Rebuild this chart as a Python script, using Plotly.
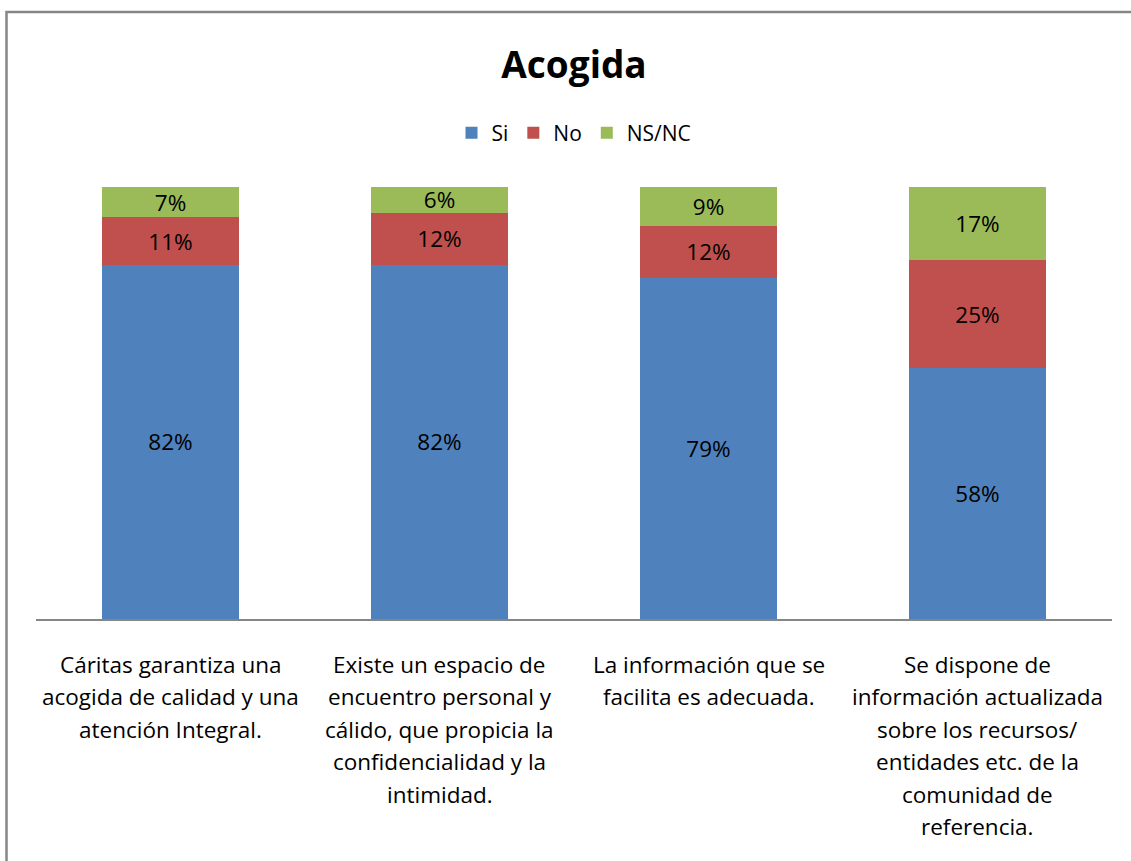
import plotly.graph_objects as go

categories = [
    "Cáritas garantiza una<br>acogida de calidad y una<br>atención Integral.",
    "Existe un espacio de<br>encuentro personal y<br>cálido, que propicia la<br>confidencialidad y la<br>intimidad.",
    "La información que se<br>facilita es adecuada.",
    "Se dispone de<br>información actualizada<br>sobre los recursos/<br>entidades etc. de la<br>comunidad de<br>referencia.",
]
cat_keys = ["c1", "c2", "c3", "c4"]
si = [82, 82, 79, 58]
no = [11, 12, 12, 25]
nsnc = [7, 6, 9, 17]

FONT = "Open Sans, Calibri, Carlito, sans-serif"
fig = go.Figure()
for name, vals, col in [("Si", si, "#4F81BD"), ("No", no, "#C0504D"), ("NS/NC", nsnc, "#9BBB59")]:
    fig.add_trace(go.Bar(
        x=cat_keys, y=vals, name=name, marker=dict(color=col, line=dict(width=0)),
        text=[f"{v}%" for v in vals], textposition="inside", insidetextanchor="middle",
        textfont=dict(color="black", size=22.5, family=FONT), constraintext="none",
    ))

annotations = []
for key, label in zip(cat_keys, categories):
    for j, line in enumerate(label.split("<br>")):
        annotations.append(dict(
            x=key, y=0, xref="x", yref="y", text=line, showarrow=False,
            yanchor="middle", xanchor="center", yshift=-(45 + 32.5 * j),
            font=dict(size=22.5, color="black", family=FONT),
        ))

W, H = 1131, 861
L, R, T, B = 36, 19, 187, 242
pw, ph = W - L - R, H - T - B
def px(x):
    return (x - L) / pw
def py(y):
    return (H - B - y) / ph

fig.update_layout(
    width=W, height=H, barmode="stack", bargap=0.49,
    margin=dict(l=L, r=R, t=T, b=B, autoexpand=False),
    paper_bgcolor="white", plot_bgcolor="white",
    font=dict(family=FONT, color="black"),
    title=dict(text="<b>Acogida</b>", x=0.5, xref="paper", xanchor="center",
               y=1 - 65 / H, yanchor="middle", font=dict(size=37, family=FONT, color="black")),
    legend=dict(orientation="h", x=0.5, xanchor="center", y=py(133), yanchor="middle",
                font=dict(size=21, family=FONT), traceorder="normal", itemwidth=30),
    xaxis=dict(showticklabels=False, showline=True, linecolor="#868686", linewidth=1.5,
               ticks="", showgrid=False, zeroline=False),
    yaxis=dict(range=[0, 100], visible=False, showgrid=False, zeroline=False),
    annotations=annotations,
    shapes=[dict(type="rect", xref="paper", yref="paper", x0=px(6.5), x1=px(1140),
                 y0=py(870), y1=py(12), line=dict(color="#868686", width=2.5),
                 fillcolor="rgba(0,0,0,0)", layer="below")],
)
fig.write_html("out.html", config={"displayModeBar": False},
               post_script="document.body.style.margin='0px';")
